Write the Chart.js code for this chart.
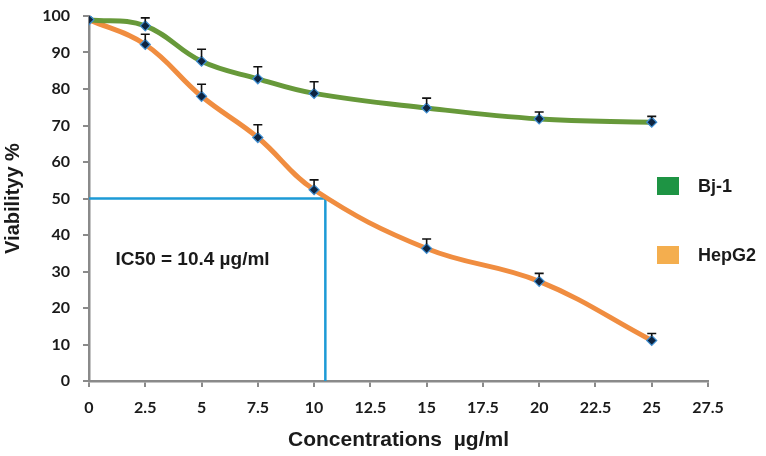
<!DOCTYPE html>
<html>
<head>
<meta charset="utf-8">
<script src="https://cdn.jsdelivr.net/npm/chart.js@4"></script>
<style>
  html, body { margin: 0; padding: 0; background: #fff; }
  #wrap { width: 766px; height: 456px; }
</style>
</head>
<body>
<div id="wrap"><canvas id="viability-chart"></canvas></div>
<script>
"use strict";

// data
let concentrations = [0, 2.5, 5, 7.5, 10, 15, 20, 25];
let bj1Values = [99, 97.3, 87.6, 82.8, 78.8, 74.8, 71.8, 70.9];
let bj1Errors = [0, 2.2, 3.3, 3.3, 3.2, 2.7, 1.9, 1.6];
let hepg2Values = [99, 92.2, 78, 66.7, 52.4, 36.3, 27.3, 11.1];
let hepg2Errors = [0, 2.8, 3.3, 3.5, 2.7, 2.6, 2.2, 1.9];
let ic50X = [0, 10.5, 10.5];
let ic50Y = [50, 50, 0];
let xTicks = [0, 2.5, 5, 7.5, 10, 12.5, 15, 17.5, 20, 22.5, 25, 27.5];

let tickFont = { family: "Lato, 'Liberation Sans', sans-serif", size: 16, weight: "bold" };
let axisGray = "#8a8a8a";

function toPoints(xs, ys) {
  let points = [];
  for (let i = 0; i < xs.length; i++) {
    points.push({ x: xs[i], y: ys[i] });
  }
  return points;
}

// up-only error bars with a small cap
let errorBarPlugin = {
  id: "errorBars",
  afterDatasetsDraw(chart) {
    let ctx = chart.ctx;
    let yScale = chart.scales.y;
    chart.data.datasets.forEach(function (ds, i) {
      if (!ds.errors) return;
      let meta = chart.getDatasetMeta(i);
      ctx.save();
      ctx.strokeStyle = "#111";
      ctx.lineWidth = 1.6;
      meta.data.forEach(function (pt, j) {
        let err = ds.errors[j];
        if (!err) return;
        let top = yScale.getPixelForValue(ds.data[j].y + err);
        ctx.beginPath();
        ctx.moveTo(pt.x, pt.y - 4);
        ctx.lineTo(pt.x, top);
        ctx.moveTo(pt.x - 4.5, top);
        ctx.lineTo(pt.x + 4.5, top);
        ctx.stroke();
      });
      ctx.restore();
    });
  },
};

// IC50 note and the side legend
let notesPlugin = {
  id: "notes",
  afterDraw(chart) {
    let ctx = chart.ctx;
    let x = chart.scales.x;
    let y = chart.scales.y;
    ctx.save();
    ctx.fillStyle = "#1a1a1a";
    ctx.font = "bold 19px 'Liberation Sans', Arial, sans-serif";
    ctx.textBaseline = "middle";
    ctx.textAlign = "left";
    ctx.fillText("IC50 = 10.4 \u00b5g/ml", x.getPixelForValue(1.18), y.getPixelForValue(33.3));

    let items = chart.data.datasets.filter(function (ds) { return ds.legendColor; });
    let area = chart.chartArea;
    let boxX = area.right - 51;
    let rowY = [186, 255];
    ctx.font = "bold 18px 'Liberation Sans', Arial, sans-serif";
    items.forEach(function (ds, k) {
      ctx.fillStyle = ds.legendColor;
      ctx.fillRect(boxX, rowY[k] - 9, 22, 18);
      ctx.fillStyle = "#1a1a1a";
      ctx.fillText(ds.label, boxX + 41, rowY[k] + 1);
    });
    ctx.restore();
  },
};

let ctx = document.getElementById("viability-chart");
let chart = new Chart(ctx, {
  type: "line",
  data: {
    datasets: [
      {
        label: "Bj-1",
        data: toPoints(concentrations, bj1Values),
        errors: bj1Errors,
        legendColor: "#1e9444",
        borderColor: "#67993a",
        borderWidth: 5,
        tension: 0.4,
        pointStyle: "rectRot",
        pointRadius: 5,
        pointBackgroundColor: "#0e2440",
        pointBorderColor: "#3f8fd2",
        pointBorderWidth: 1.2,
      },
      {
        label: "HepG2",
        data: toPoints(concentrations, hepg2Values),
        errors: hepg2Errors,
        legendColor: "#f4ae4e",
        borderColor: "#f08d40",
        borderWidth: 5,
        tension: 0.4,
        pointStyle: "rectRot",
        pointRadius: 5,
        pointBackgroundColor: "#0e2440",
        pointBorderColor: "#3f8fd2",
        pointBorderWidth: 1.2,
      },
      {
        label: "IC50",
        data: toPoints(ic50X, ic50Y),
        borderColor: "#1d9ad6",
        borderWidth: 2.5,
        tension: 0,
        pointRadius: 0,
      },
    ],
  },
  options: {
    responsive: true,
    maintainAspectRatio: false,
    animation: false,
    layout: { padding: { left: 0, right: 58, top: 16, bottom: 0 } },
    plugins: {
      legend: { display: false },
      tooltip: { enabled: false },
    },
    scales: {
      x: {
        type: "linear",
        min: 0,
        max: 27.5,
        afterBuildTicks: function (scale) {
          scale.ticks = xTicks.map(function (v) { return { value: v }; });
        },
        afterFit: function (scale) { scale.height = 75; },
        ticks: { font: tickFont, color: "#1a1a1a", padding: 11 },
        grid: { drawOnChartArea: false, drawTicks: true, tickLength: 6, color: axisGray, lineWidth: 2 },
        border: { display: true, color: axisGray, width: 2.5 },
        title: {
          display: true,
          text: "Concentrations  \u00b5g/ml",
          color: "#1a1a1a",
          font: { family: "'Liberation Sans', Arial, sans-serif", size: 21, weight: "bold" },
          padding: { top: 0, bottom: 3 },
        },
      },
      y: {
        min: 0,
        max: 100,
        ticks: { stepSize: 10, font: tickFont, color: "#1a1a1a", padding: 13 },
        afterFit: function (scale) {
          scale.width = 89;
          scale.paddingTop = 0;
          scale.paddingBottom = 0;
        },
        grid: { drawOnChartArea: false, drawTicks: true, tickLength: 6, color: axisGray, lineWidth: 2 },
        border: { display: true, color: axisGray, width: 2.5 },
        title: {
          display: true,
          text: "Viabilityy %",
          color: "#1a1a1a",
          font: { family: "'Liberation Sans', Arial, sans-serif", size: 20, weight: "bold" },
          padding: { top: 1, bottom: 0 },
        },
      },
    },
  },
  plugins: [errorBarPlugin, notesPlugin],
});
</script>
</body>
</html>
